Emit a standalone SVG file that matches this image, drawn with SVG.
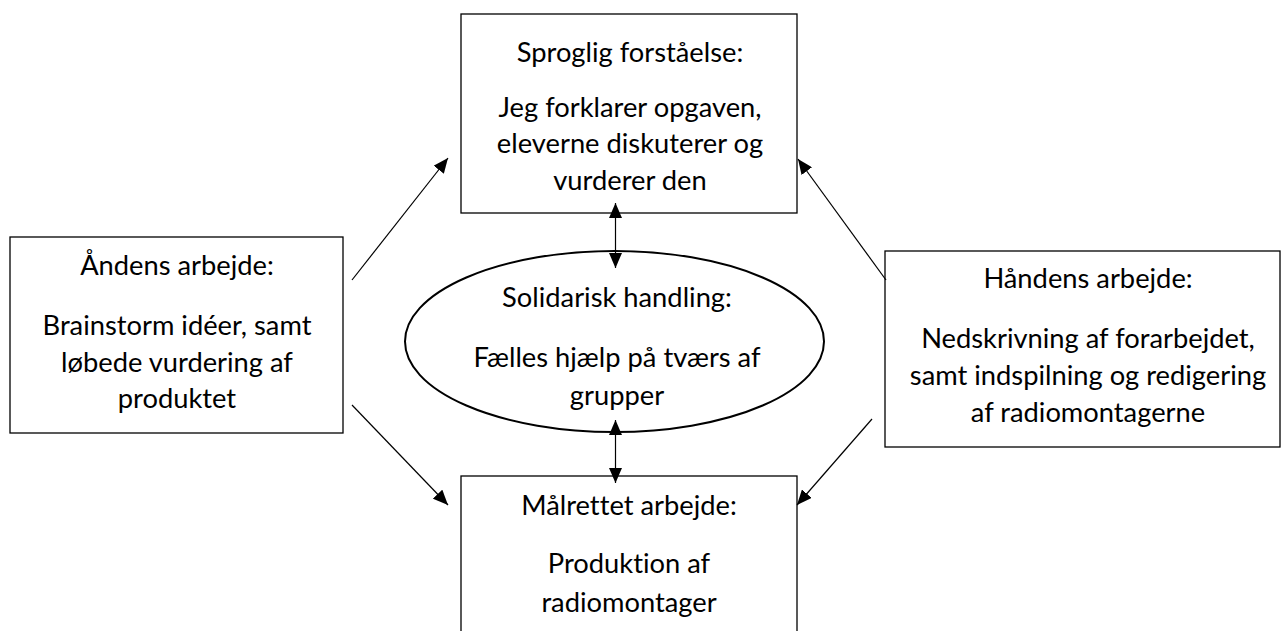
<svg xmlns="http://www.w3.org/2000/svg" width="1282" height="631" viewBox="0 0 1282 631">
<style>
.box{fill:#fff;stroke:#000;stroke-width:1.3}
.ell{fill:#fff;stroke:#000;stroke-width:2}
.t{font-family:Lato,"Liberation Sans",sans-serif;font-size:27.3px;fill:#000;text-anchor:middle;font-variant-ligatures:none}
.c{stroke:#000;stroke-width:1.2;fill:none}
</style>
<defs>
<marker id="ah" viewBox="0 0 15 13" refX="15" refY="6.5" markerWidth="15" markerHeight="13" markerUnits="userSpaceOnUse" orient="auto-start-reverse">
<path d="M0,0 L15,6.5 L0,13 Z" fill="#000"/>
</marker>
</defs>
<rect width="1282" height="631" fill="#fff"/>
<g id="top">
<rect class="box" x="461" y="14" width="336" height="199"/>
<text class="t" x="630" y="62">Sproglig forståelse:</text>
<text class="t" x="630" y="117">Jeg forklarer opgaven,</text>
<text class="t" x="630" y="153">eleverne diskuterer og</text>
<text class="t" x="630" y="190">vurderer den</text>
</g>
<g id="left">
<rect class="box" x="10" y="237" width="333" height="196"/>
<text class="t" x="177" y="275">Åndens arbejde:</text>
<text class="t" x="177" y="335">Brainstorm idéer, samt</text>
<text class="t" x="177" y="372">løbede vurdering af</text>
<text class="t" x="177" y="408">produktet</text>
</g>
<g id="right">
<rect class="box" x="885" y="251" width="395" height="196"/>
<text class="t" x="1088" y="288">Håndens arbejde:</text>
<text class="t" x="1088" y="348">Nedskrivning af forarbejdet,</text>
<text class="t" x="1088" y="385">samt indspilning og redigering</text>
<text class="t" x="1088" y="422">af radiomontagerne</text>
</g>
<g id="center">
<ellipse class="ell" cx="614.5" cy="341.5" rx="209.5" ry="90.5"/>
<text class="t" x="617" y="307">Solidarisk handling:</text>
<text class="t" x="617" y="367">Fælles hjælp på tværs af</text>
<text class="t" x="617" y="405">grupper</text>
</g>
<g id="bottom">
<rect class="box" x="461" y="476" width="336" height="170"/>
<text class="t" x="629" y="515">Målrettet arbejde:</text>
<text class="t" x="629" y="573">Produktion af</text>
<text class="t" x="629" y="612">radiomontager</text>
</g>
<g id="connectors">
<line class="c" x1="615.5" y1="203" x2="615.5" y2="268" marker-start="url(#ah)" marker-end="url(#ah)"/>
<line class="c" x1="615.5" y1="420" x2="615.5" y2="483" marker-start="url(#ah)" marker-end="url(#ah)"/>
<line class="c" x1="352" y1="280" x2="448" y2="158" marker-end="url(#ah)"/>
<line class="c" x1="886" y1="280" x2="798" y2="159" marker-end="url(#ah)"/>
<line class="c" x1="352" y1="405" x2="448" y2="505" marker-end="url(#ah)"/>
<line class="c" x1="872" y1="419" x2="797" y2="505" marker-end="url(#ah)"/>
</g>
</svg>
